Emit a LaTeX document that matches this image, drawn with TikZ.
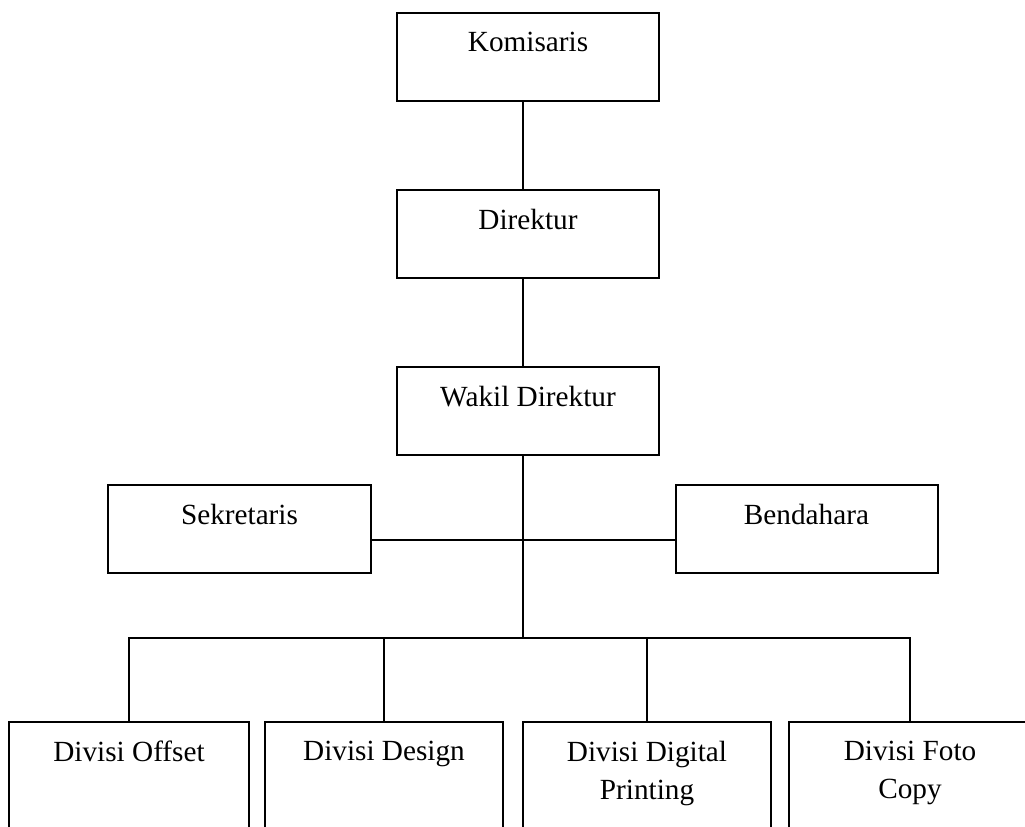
\documentclass[tikz,border=0pt]{standalone}
\usepackage{fontspec}
\setmainfont{Liberation Serif}
\usetikzlibrary{positioning}

\tikzset{
  jabatan/.style={draw,rectangle,line width=0.8pt,inner sep=0pt,
    minimum width=104.8pt,minimum height=35.2pt},
  divisi/.style={jabatan,minimum height=52pt},
  judul/.style={anchor=north,align=center,inner sep=0pt,yshift=-7.8pt,
    font=\fontsize{11.7}{15.2}\selectfont},
  garis/.style={line width=0.8pt}
}

\begin{document}
\begin{tikzpicture}[x=0.4pt,y=-0.4pt]
\clip (0,0) rectangle (1025,826);
% column
\begin{scope}[node distance=34.8pt]
\node[jabatan] (komisaris) at (528,57) {};
\node[jabatan,below=of komisaris] (direktur) {};
\node[jabatan,below=of direktur] (wakil) {};
\end{scope}
\node[jabatan] (sekretaris) at (239.5,529) {};
\node[jabatan] (bendahara) at (806.5,529) {};
% bottom row
\node[divisi,minimum width=96pt] (offset) at (129,787) {};
\node[divisi,minimum width=95.2pt,right=5.6pt of offset] (design) {};
\node[divisi,minimum width=99.2pt,right=7.2pt of design] (digital) {};
\node[divisi,minimum width=96.8pt,right=6.4pt of digital] (foto) {};
% texts
\node[judul] (tkomisaris) at (komisaris.north) {Komisaris};
\node[judul] (tdirektur) at (direktur.north) {Direktur};
\node[judul] (twakil) at (wakil.north) {Wakil Direktur};
\node[judul] (tsekretaris) at (sekretaris.north) {Sekretaris};
\node[judul] (tbendahara) at (bendahara.north) {Bendahara};
\node[judul] (toffset) at (offset.north) {Divisi Offset};
\node[judul] (tdesign) at (design.north) {Divisi Design};
\node[judul] (tdigital) at (digital.north) {Divisi Digital\\Printing};
\node[judul] (tfoto) at (foto.north) {Divisi Foto\\Copy};
% lines
\coordinate (bus) at (523,638);
\coordinate (cabang) at (523,540);
\draw[garis] (komisaris.south -| bus) -- (direktur.north -| bus);
\draw[garis] (direktur.south -| bus) -- (wakil.north -| bus);
\draw[garis] (wakil.south -| bus) -- (bus);
\draw[garis] (sekretaris.east |- cabang) -- (bendahara.west |- cabang);
\draw[garis] (offset.north) |- (bus) -| (foto.north);
\draw[garis] (design.north) -- (design.north |- bus);
\draw[garis] (digital.north) -- (digital.north |- bus);
\end{tikzpicture}
\end{document}
